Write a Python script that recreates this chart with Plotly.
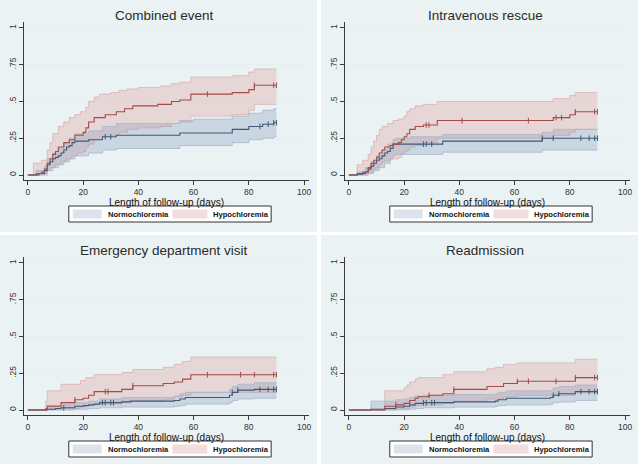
import plotly.graph_objects as go

# ---------------- data ----------------
panel_titles = ["Combined event", "Intravenous rescue",
                "Emergency department visit", "Readmission"]
group_labels = ["Normochloremia", "Hypochloremia"]
x_ticks = [0, 20, 40, 60, 80, 100]
y_ticks = [0, 0.25, 0.5, 0.75, 1]
y_tick_text = ["0", ".25", ".5", ".75", "1"]
END_T = 90

# Panel 1: Combined event
p1_hypo_t = [0, 3, 5, 6, 7, 8, 9, 10, 11, 13, 15, 17, 20, 21, 22, 24, 28, 32, 35, 38, 47, 52, 55, 59, 74, 80, 82]
p1_hypo_v = [0, .01, .02, .04, .08, .11, .14, .16, .19, .22, .24, .27, .29, .32, .36, .39, .41, .43, .45, .47, .48, .50, .51, .55, .56, .58, .61]
p1_hypo_up_t = [0, 2, 5, 7, 8, 9, 11, 13, 15, 17, 19, 21, 22, 24, 26, 30, 33, 36, 40, 48, 52, 55, 59, 74, 80, 82]
p1_hypo_up_v = [0, .08, .10, .17, .22, .28, .33, .36, .39, .41, .43, .46, .50, .53, .55, .56, .575, .585, .595, .605, .62, .63, .665, .675, .70, .72]
p1_hypo_lo_t = [0, 6, 7, 8, 10, 12, 14, 16, 18, 20, 21, 22, 24, 26, 30, 33, 36, 40, 48, 52, 55, 59, 74, 80, 82]
p1_hypo_lo_v = [0, .01, .03, .05, .07, .09, .11, .13, .15, .16, .19, .21, .24, .26, .27, .29, .31, .32, .33, .35, .36, .40, .41, .44, .48]
p1_normo_t = [0, 4, 6, 7, 8, 9, 10, 11, 12, 13, 14, 15, 16, 17, 22, 27, 32, 55, 74, 80, 85, 89]
p1_normo_v = [0, .01, .03, .07, .09, .11, .12, .13, .15, .17, .19, .20, .22, .23, .24, .26, .27, .285, .31, .33, .345, .355]
p1_normo_up_t = [0, 3, 6, 7, 9, 11, 13, 15, 17, 22, 27, 32, 55, 60, 74, 80, 85, 89]
p1_normo_up_v = [0, .03, .06, .11, .15, .18, .22, .25, .28, .30, .33, .35, .37, .38, .40, .42, .44, .45]
p1_normo_lo_t = [0, 7, 9, 11, 13, 15, 17, 22, 27, 32, 55, 74, 80, 85, 89]
p1_normo_lo_v = [0, .03, .05, .07, .09, .11, .13, .15, .17, .18, .20, .22, .24, .25, .26]
p1_hypo_cens = [65, 82, 89, 90]
p1_normo_cens = [28, 30, 84, 87, 89, 90]

# Panel 2: Intravenous rescue
p2_hypo_t = [0, 3, 5, 7, 8, 9, 10, 11, 12, 13, 15, 16, 18, 19, 20, 21, 22, 24, 27, 32, 74, 80, 82]
p2_hypo_v = [0, .01, .02, .05, .08, .10, .12, .15, .17, .19, .20, .21, .22, .24, .26, .28, .31, .33, .34, .37, .39, .41, .43]
p2_hypo_up_t = [0, 3, 5, 7, 8, 9, 10, 11, 12, 14, 16, 18, 20, 21, 22, 24, 27, 32, 74, 80, 82]
p2_hypo_up_v = [0, .07, .10, .14, .19, .23, .27, .31, .33, .35, .37, .38, .40, .43, .45, .47, .48, .50, .52, .54, .56]
p2_hypo_lo_t = [0, 7, 8, 9, 10, 11, 12, 13, 15, 18, 19, 20, 21, 22, 24, 27, 32, 74, 80, 82]
p2_hypo_lo_v = [0, .01, .02, .04, .05, .07, .09, .10, .11, .12, .14, .16, .17, .19, .20, .22, .25, .27, .29, .31]
p2_normo_t = [0, 3, 5, 6, 7, 8, 9, 10, 11, 12, 13, 14, 15, 16, 34, 70]
p2_normo_v = [0, .005, .01, .02, .04, .06, .08, .10, .11, .13, .15, .16, .18, .21, .23, .25]
p2_normo_up_t = [0, 3, 6, 8, 10, 12, 14, 16, 17, 22, 34, 70, 74]
p2_normo_up_v = [0, .02, .05, .09, .13, .17, .21, .24, .25, .26, .275, .29, .31]
p2_normo_lo_t = [0, 7, 9, 11, 13, 15, 16, 17, 34, 70]
p2_normo_lo_v = [0, .01, .03, .05, .08, .11, .13, .14, .155, .17]
p2_hypo_cens = [28, 29, 41, 65, 75, 77, 82, 89, 90]
p2_normo_cens = [27, 28, 30, 70, 74, 84, 87, 89, 90]

# Panel 3: Emergency department visit
p3_hypo_t = [0, 6.5, 7, 12, 17, 20, 22, 24, 34, 38, 49, 53, 56, 59]
p3_hypo_v = [0, .01, .025, .05, .07, .08, .10, .125, .14, .165, .18, .19, .21, .24]
p3_hypo_up_t = [0, 6.5, 7, 12, 19, 21, 24, 34, 38, 49, 53, 56, 59]
p3_hypo_up_v = [0, .06, .13, .175, .20, .22, .24, .255, .275, .29, .31, .33, .36]
p3_hypo_lo_t = [0, 7, 12, 19, 21, 24, 34, 38, 49, 53, 56, 59]
p3_hypo_lo_v = [0, .005, .01, .02, .03, .04, .05, .06, .07, .09, .10, .12]
p3_normo_t = [0, 7, 10, 12, 17, 20, 22, 24, 26, 34, 37, 53, 55, 57, 73, 74, 76, 82]
p3_normo_v = [0, .005, .01, .015, .025, .03, .035, .04, .05, .055, .06, .065, .075, .085, .10, .12, .135, .14]
p3_normo_up_t = [0, 7, 12, 17, 22, 26, 34, 53, 55, 57, 73, 74, 76, 82]
p3_normo_up_v = [0, .03, .04, .05, .06, .075, .085, .095, .11, .12, .14, .16, .175, .185]
p3_normo_lo_t = [0, 17, 22, 26, 34, 53, 55, 57, 73, 74, 76, 82]
p3_normo_lo_v = [0, .005, .01, .015, .02, .025, .03, .04, .05, .065, .075, .08]
p3_hypo_cens = [17, 28, 29, 38, 65, 77, 82, 89, 90]
p3_normo_cens = [13, 27, 28, 30, 31, 74, 76, 84, 87, 89, 90]

# Panel 4: Readmission
p4_hypo_t = [0, 13, 17, 20, 22, 24, 25, 29, 34, 38, 50, 56, 61, 82]
p4_hypo_v = [0, .025, .035, .045, .065, .08, .09, .10, .11, .14, .16, .18, .195, .22]
p4_hypo_up_t = [0, 13, 20, 21, 22, 24, 25, 34, 38, 50, 53, 56, 61, 82]
p4_hypo_up_v = [0, .13, .15, .17, .19, .21, .22, .24, .26, .28, .29, .31, .32, .345]
p4_hypo_lo_t = [0, 17, 20, 22, 24, 29, 34, 38, 50, 56, 61, 82]
p4_hypo_lo_v = [0, .005, .01, .02, .03, .035, .045, .06, .075, .09, .10, .12]
p4_normo_t = [0, 8, 13, 17, 20, 22, 24, 27, 38, 53, 54, 57, 73, 74, 76, 82]
p4_normo_v = [0, .005, .01, .02, .025, .035, .045, .05, .055, .06, .07, .08, .085, .10, .11, .125]
p4_normo_up_t = [0, 8, 17, 20, 22, 24, 27, 38, 53, 54, 57, 73, 74, 76, 82]
p4_normo_up_v = [0, .06, .07, .075, .085, .095, .10, .105, .11, .12, .13, .135, .15, .16, .17]
p4_normo_lo_t = [0, 17, 22, 24, 27, 38, 53, 54, 57, 73, 74, 76, 82]
p4_normo_lo_v = [0, .002, .005, .01, .015, .02, .025, .03, .035, .04, .05, .055, .065]
p4_hypo_cens = [17, 29, 38, 61, 65, 75, 82, 89, 90]
p4_normo_cens = [27, 28, 30, 31, 74, 76, 84, 87, 89, 90]

panels = [
    dict(hypo=(p1_hypo_t, p1_hypo_v), hypo_up=(p1_hypo_up_t, p1_hypo_up_v), hypo_lo=(p1_hypo_lo_t, p1_hypo_lo_v),
         normo=(p1_normo_t, p1_normo_v), normo_up=(p1_normo_up_t, p1_normo_up_v), normo_lo=(p1_normo_lo_t, p1_normo_lo_v),
         hypo_c=p1_hypo_cens, normo_c=p1_normo_cens),
    dict(hypo=(p2_hypo_t, p2_hypo_v), hypo_up=(p2_hypo_up_t, p2_hypo_up_v), hypo_lo=(p2_hypo_lo_t, p2_hypo_lo_v),
         normo=(p2_normo_t, p2_normo_v), normo_up=(p2_normo_up_t, p2_normo_up_v), normo_lo=(p2_normo_lo_t, p2_normo_lo_v),
         hypo_c=p2_hypo_cens, normo_c=p2_normo_cens),
    dict(hypo=(p3_hypo_t, p3_hypo_v), hypo_up=(p3_hypo_up_t, p3_hypo_up_v), hypo_lo=(p3_hypo_lo_t, p3_hypo_lo_v),
         normo=(p3_normo_t, p3_normo_v), normo_up=(p3_normo_up_t, p3_normo_up_v), normo_lo=(p3_normo_lo_t, p3_normo_lo_v),
         hypo_c=p3_hypo_cens, normo_c=p3_normo_cens),
    dict(hypo=(p4_hypo_t, p4_hypo_v), hypo_up=(p4_hypo_up_t, p4_hypo_up_v), hypo_lo=(p4_hypo_lo_t, p4_hypo_lo_v),
         normo=(p4_normo_t, p4_normo_v), normo_up=(p4_normo_up_t, p4_normo_up_v), normo_lo=(p4_normo_lo_t, p4_normo_lo_v),
         hypo_c=p4_hypo_cens, normo_c=p4_normo_cens),
]

# ---------------- styling ----------------
W, H = 640, 464
FONT = "Liberation Sans, Arial, sans-serif"
PANEL_BG = "#EAF2F3"
GRID = "#E6EEF0"
AXIS = "#3a3a3a"
HYPO_LINE = "#A54B48"
NORMO_LINE = "#3D5A78"
HYPO_FILL = "rgba(225,150,150,0.30)"
NORMO_FILL = "rgba(130,150,185,0.30)"
HYPO_EDGE = "#DDB0B0"
NORMO_EDGE = "#AAB6CA"
HYPO_SWATCH = "#F2DCDD"
NORMO_SWATCH = "#DDE2EB"

origins = [(0, 0), (322, 0), (0, 235), (322, 235)]
PANEL_W = 318
PANEL_H = [232, 232, 229, 229]
PLOT_L, PLOT_R, PLOT_T, PLOT_B = 24, 310, 22, 180


def px_x(x):
    return x / W


def px_y(y):
    return 1 - y / H


def extend(t, v):
    t = list(t) + [END_T]
    v = list(v) + [v[-1]]
    return t, v


def step_at(t, v, x):
    val = v[0]
    for ti, vi in zip(t, v):
        if ti <= x:
            val = vi
    return val


fig = go.Figure()
shapes = []
annotations = []

for i, p in enumerate(panels):
    ox, oy = origins[i]
    ax = "" if i == 0 else str(i + 1)
    xa, ya = "x" + ax, "y" + ax

    for key, fill, edge in (("hypo", HYPO_FILL, HYPO_EDGE), ("normo", NORMO_FILL, NORMO_EDGE)):
        ut, uv = extend(*p[key + "_up"])
        lt, lv = extend(*p[key + "_lo"])
        fig.add_trace(go.Scatter(x=ut, y=uv, mode="lines", line=dict(shape="hv", color=edge, width=0.8),
                                 xaxis=xa, yaxis=ya, showlegend=False, hoverinfo="skip"))
        fig.add_trace(go.Scatter(x=lt, y=lv, mode="lines", line=dict(shape="hv", color=edge, width=0.8),
                                 fill="tonexty", fillcolor=fill,
                                 xaxis=xa, yaxis=ya, showlegend=False, hoverinfo="skip"))
    for key, col in (("normo", NORMO_LINE), ("hypo", HYPO_LINE)):
        t, v = extend(*p[key])
        fig.add_trace(go.Scatter(x=t, y=v, mode="lines", line=dict(shape="hv", color=col, width=1.1),
                                 xaxis=xa, yaxis=ya, showlegend=False, name=key))
        cens = p[key + "_c"]
        fig.add_trace(go.Scatter(x=cens, y=[step_at(t, v, c) for c in cens], mode="markers",
                                 marker=dict(symbol="line-ns", size=4, line=dict(color=col, width=1)),
                                 xaxis=xa, yaxis=ya, showlegend=False, hoverinfo="skip"))

    dom_x = [px_x(ox + PLOT_L), px_x(ox + PLOT_R)]
    dom_y = [px_y(oy + PLOT_B), px_y(oy + PLOT_T)]
    fig.layout["xaxis" + ax] = dict(
        domain=dom_x, anchor=ya, range=[-1.44, 101.8], tickvals=x_ticks,
        ticks="outside", ticklen=4, tickcolor=AXIS, tickwidth=1,
        showline=True, linecolor=AXIS, linewidth=1, showgrid=False, zeroline=False,
        tickfont=dict(family=FONT, size=8.5, color="#333"), fixedrange=True)
    fig.layout["yaxis" + ax] = dict(
        domain=dom_y, anchor=xa, range=[-0.034, 1.04], tickvals=y_ticks, ticktext=y_tick_text,
        ticks="outside", ticklen=4, tickcolor=AXIS, tickwidth=1, tickangle=-90,
        showline=True, linecolor=AXIS, linewidth=1, showgrid=True, gridcolor=GRID, gridwidth=1,
        zeroline=False, tickfont=dict(family=FONT, size=8.5, color="#333"), fixedrange=True)

    shapes.append(dict(type="rect", xref="paper", yref="paper", layer="below",
                       x0=px_x(ox), x1=px_x(ox + PANEL_W), y0=px_y(oy + PANEL_H[i]), y1=px_y(oy),
                       fillcolor=PANEL_BG, line=dict(width=0)))

    annotations.append(dict(text=panel_titles[i], xref="paper", yref="paper",
                            x=px_x(ox + 165), y=px_y(oy + 15), showarrow=False,
                            xanchor="center", yanchor="middle",
                            font=dict(family=FONT, size=13.5, color="#2a2a2a")))
    annotations.append(dict(text="Length of follow-up (days)", xref="paper", yref="paper",
                            x=px_x(ox + 167), y=px_y(oy + 202.5), showarrow=False,
                            xanchor="center", yanchor="middle",
                            font=dict(family=FONT, size=10, color="#111")))
    shapes.append(dict(type="rect", xref="paper", yref="paper",
                       x0=px_x(ox + 69), x1=px_x(ox + 272), y0=px_y(oy + 222), y1=px_y(oy + 206),
                       fillcolor="white", line=dict(color="#333", width=1)))
    shapes.append(dict(type="rect", xref="paper", yref="paper",
                       x0=px_x(ox + 73), x1=px_x(ox + 102), y0=px_y(oy + 218.5), y1=px_y(oy + 209.5),
                       fillcolor=NORMO_SWATCH, line=dict(width=0)))
    shapes.append(dict(type="rect", xref="paper", yref="paper",
                       x0=px_x(ox + 173), x1=px_x(ox + 208), y0=px_y(oy + 218.5), y1=px_y(oy + 209.5),
                       fillcolor=HYPO_SWATCH, line=dict(width=0)))
    annotations.append(dict(text="<b>" + group_labels[0] + "</b>", xref="paper", yref="paper",
                            x=px_x(ox + 106), y=px_y(oy + 214), showarrow=False,
                            xanchor="left", yanchor="middle",
                            font=dict(family=FONT, size=7.6, color="#111")))
    annotations.append(dict(text="<b>" + group_labels[1] + "</b>", xref="paper", yref="paper",
                            x=px_x(ox + 212), y=px_y(oy + 214), showarrow=False,
                            xanchor="left", yanchor="middle",
                            font=dict(family=FONT, size=7.6, color="#111")))

fig.update_layout(width=W, height=H, margin=dict(l=0, r=0, t=0, b=0),
                  paper_bgcolor="white", plot_bgcolor="white",
                  showlegend=False, shapes=shapes, annotations=annotations)

fig.write_html("out.html", config={"displayModeBar": False},
               post_script="document.body.style.margin='0';document.body.style.padding='0';")
